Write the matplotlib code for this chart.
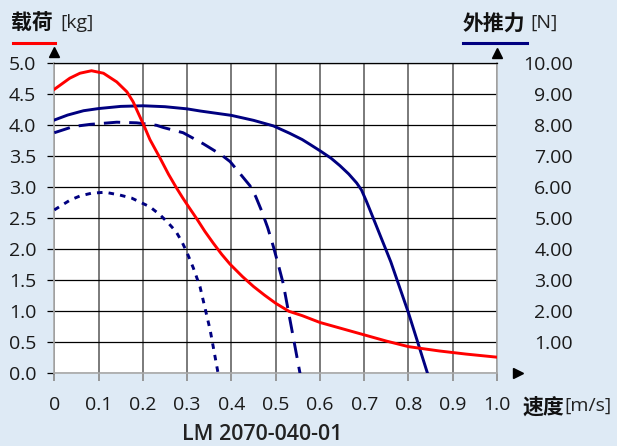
import matplotlib
matplotlib.use("Agg")
import matplotlib.pyplot as plt
from matplotlib.lines import Line2D

# ---------------- data ----------------
speed_load = [0, 0.035, 0.058, 0.084, 0.111, 0.141, 0.164, 0.178, 0.19, 0.201, 0.216,
              0.239, 0.258, 0.276, 0.29, 0.303, 0.322, 0.34, 0.359, 0.378, 0.397, 0.425,
              0.45, 0.475, 0.5, 0.53, 0.56, 0.6, 0.65, 0.7, 0.75, 0.8, 0.87, 0.93, 1.0]
load_kg = [4.58, 4.76, 4.84, 4.88, 4.84, 4.70, 4.54, 4.38, 4.19, 4.02, 3.77,
           3.47, 3.21, 2.99, 2.83, 2.69, 2.49, 2.29, 2.10, 1.92, 1.76, 1.56,
           1.40, 1.26, 1.13, 1.0, 0.93, 0.82, 0.72, 0.62, 0.52, 0.43, 0.36, 0.31, 0.26]

speed_solid = [0, 0.03, 0.066, 0.1, 0.15, 0.2, 0.25, 0.3, 0.33, 0.4, 0.45, 0.495, 0.532,
               0.56, 0.578, 0.6, 0.625, 0.645, 0.665, 0.683, 0.694, 0.705, 0.713, 0.76,
               0.8, 0.843]
force_solid = [8.17, 8.33, 8.47, 8.54, 8.61, 8.63, 8.6, 8.53, 8.46, 8.32, 8.16, 7.98, 7.74,
               7.54, 7.38, 7.18, 6.94, 6.70, 6.43, 6.14, 5.91, 5.55, 5.27, 3.6,
               1.95, 0]

speed_dash = [0, 0.043, 0.081, 0.141, 0.186, 0.231, 0.246, 0.291, 0.337, 0.378, 0.397,
              0.419, 0.442, 0.455, 0.468, 0.482, 0.495, 0.507, 0.517, 0.536, 0.555]
force_dash = [7.76, 7.96, 8.03, 8.1, 8.08, 8.0, 7.93, 7.76, 7.4, 7.04, 6.83,
              6.45, 6.05, 5.7, 5.25, 4.7, 4.08, 3.45, 2.9, 1.45, 0]

speed_dot = [0, 0.036, 0.058, 0.084, 0.115, 0.148, 0.175, 0.197, 0.216, 0.239, 0.258,
             0.275, 0.288, 0.299, 0.314, 0.329, 0.352, 0.37]
force_dot = [5.27, 5.59, 5.72, 5.81, 5.84, 5.75, 5.65, 5.50, 5.37, 5.11, 4.84,
             4.57, 4.25, 3.92, 3.4, 2.8, 1.4, 0]

x_ticks = [0, 0.1, 0.2, 0.3, 0.4, 0.5, 0.6, 0.7, 0.8, 0.9, 1.0]
x_labels = ["0", "0.1", "0.2", "0.3", "0.4", "0.5", "0.6", "0.7", "0.8", "0.9", "1.0"]
yl_ticks = [0, 0.5, 1.0, 1.5, 2.0, 2.5, 3.0, 3.5, 4.0, 4.5, 5.0]
yl_labels = ["0.0", "0.5", "1.0", "1.5", "2.0", "2.5", "3.0", "3.5", "4.0", "4.5", "5.0"]
yr_ticks = [1, 2, 3, 4, 5, 6, 7, 8, 9, 10]
yr_labels = ["1.00", "2.00", "3.00", "4.00", "5.00", "6.00", "7.00", "8.00", "9.00", "10.00"]

# ---------------- style ----------------
W, H = 617, 446
BG = "#deeaf5"
RED = "#ff0000"
NAVY = "#000080"
NUM_FONT = ["Open Sans", "DejaVu Sans"]
CJK_FONT = ["Noto Sans CJK SC", "DejaVu Sans"]
FS = 14
LW = 2.1

plt.rcParams["font.family"] = NUM_FONT

fig = plt.figure(figsize=(W / 100, H / 100), dpi=100, facecolor=BG)
x0, x1 = 54.3, 497.0
y_top, y_bot = 63.3, 373.3
ax = fig.add_axes([x0 / W, 1 - y_bot / H, (x1 - x0) / W, (y_bot - y_top) / H])
ax.set_facecolor("white")
ax.set_xlim(0, 1)
ax.set_ylim(0, 5)

ax.set_xticks(x_ticks)
ax.set_xticklabels(x_labels, fontsize=FS, color="#1a1a1a")
ax.set_yticks(yl_ticks)
ax.set_yticklabels(yl_labels, fontsize=FS, color="#1a1a1a")
ax.grid(axis="y", color="black", lw=0.9, zorder=1)
ax.grid(axis="x", color="#707070", lw=1.3, zorder=1)
ax.tick_params(axis="y", length=5, width=0.9, color="black", pad=8)
ax.tick_params(axis="x", length=6, width=1.3, color="#909090", pad=10)
for s in ["left", "right", "bottom"]:
    ax.spines[s].set_color("#a8a8a8")
    ax.spines[s].set_linewidth(1.2)
ax.spines["top"].set_color("black")
ax.spines["top"].set_linewidth(0.9)

ax2 = ax.twinx()
ax2.set_ylim(0, 10)
ax2.set_yticks(yr_ticks)
ax2.set_yticklabels(yr_labels, fontsize=FS, color="#1a1a1a")
ax2.tick_params(axis="y", length=0, pad=(573 - 497) * 72 / 100)
for lbl in ax2.get_yticklabels():
    lbl.set_horizontalalignment("right")
for s in ax2.spines.values():
    s.set_visible(False)
ax2.patch.set_visible(False)

ax2.plot(speed_solid, force_solid, color=NAVY, lw=LW, solid_joinstyle="round")
ax2.plot(speed_dash, force_dash, color=NAVY, lw=LW, dashes=(5.6, 3.1))
ax2.plot(speed_dot, force_dot, color=NAVY, lw=LW, dashes=(1.9, 2.1))
# load curve uses the left (kg) scale, drawn on top
ax2.plot(speed_load, load_kg, color=RED, lw=LW, solid_joinstyle="round",
         transform=ax.transData)

# arrows at axis ends
ax.plot([0], [1.035], marker="^", ms=7, color="black", transform=ax.transAxes, clip_on=False)
ax.plot([1.0], [1.033], marker="^", ms=7, color="black", transform=ax.transAxes, clip_on=False)
ax.plot([1.047], [0], marker=">", ms=7, color="black", transform=ax.transAxes, clip_on=False)


def fx(px):
    return px / W


def fy(py):
    return 1 - py / H


fig.text(fx(11.5), fy(23), "载荷", family=CJK_FONT, weight="bold", fontsize=15,
         va="center", ha="left", color="#111111")
fig.text(fx(60), fy(23), "[kg]", family=NUM_FONT, fontsize=FS, va="center", ha="left",
         color="#222222")
fig.add_artist(Line2D([fx(12.7), fx(55)], [fy(43), fy(43)], color=RED, lw=2.2))

fig.text(fx(462.5), fy(24), "外推力", family=CJK_FONT, weight="bold", fontsize=15,
         va="center", ha="left", color="#111111")
fig.text(fx(530), fy(23), "[N]", family=NUM_FONT, fontsize=FS, va="center", ha="left",
         color="#222222")
fig.add_artist(Line2D([fx(462.7), fx(527.3)], [fy(43), fy(43)], color=NAVY, lw=2.2))

fig.text(fx(523), fy(407), "速度", family=CJK_FONT, weight="bold", fontsize=15,
         va="center", ha="left", color="#111111")
fig.text(fx(564), fy(406), "[m/s]", family=NUM_FONT, fontsize=FS, va="center", ha="left",
         color="#222222")

fig.text(fx(262.5), fy(434), "LM 2070-040-01", family=NUM_FONT, weight="semibold",
         fontsize=15.5, va="center", ha="center", color="#222222")

fig.savefig("out.png", dpi=100, facecolor=BG)
